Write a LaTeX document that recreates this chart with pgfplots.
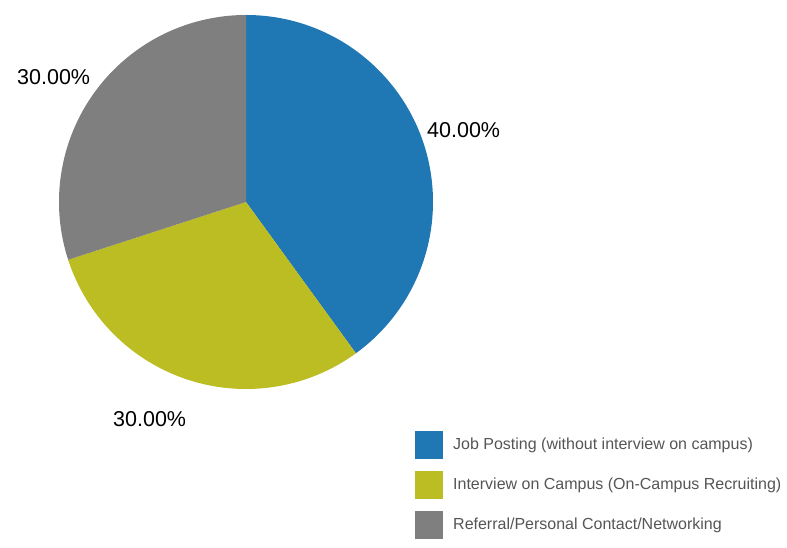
\documentclass[border=0pt]{standalone}
\usepackage{pgfplots}
\pgfplotsset{compat=1.18}
\usepackage{fontspec}
\setmainfont{Liberation Sans}

\definecolor{pblue}{HTML}{1F77B4}
\definecolor{pyellow}{HTML}{BCBD22}
\definecolor{pgray}{HTML}{7F7F7F}
\definecolor{legtext}{HTML}{555555}

% shares in percent
\def\va{40}\def\vb{30}\def\vc{30}

\begin{document}
\begin{tikzpicture}
\pgfmathsetmacro\aA{90}
\pgfmathsetmacro\aB{90-3.6*\va}
\pgfmathsetmacro\aC{\aB-3.6*\vb}
\pgfmathsetmacro\aD{\aC-3.6*\vc}
\begin{axis}[
	at={(0pt,0pt)},
	anchor=south west,
	scale only axis,
	width=787pt,
	height=548pt,
	xmin=0, xmax=787,
	ymin=0, ymax=548,
	hide axis,
	clip=false
	]
\addplot[draw=none] coordinates {(0,0) (787,548)};
% wedges, centre (246,346), radius 187
\fill[pblue] (axis cs:246,346) -- (axis cs:{246+187*cos(\aA)},{346+187*sin(\aA)})
	arc[start angle=\aA, end angle=\aB, radius=187pt] -- cycle;
\fill[pyellow] (axis cs:246,346) -- (axis cs:{246+187*cos(\aB)},{346+187*sin(\aB)})
	arc[start angle=\aB, end angle=\aC, radius=187pt] -- cycle;
\fill[pgray] (axis cs:246,346) -- (axis cs:{246+187*cos(\aC)},{346+187*sin(\aC)})
	arc[start angle=\aC, end angle=\aD, radius=187pt] -- cycle;

% slice labels
\node[anchor=west, inner sep=0pt, font=\fontsize{21.5}{24}\selectfont] at (axis cs:427,418) {40.00\%};
\node[anchor=west, inner sep=0pt, font=\fontsize{21.5}{24}\selectfont] at (axis cs:113,129) {30.00\%};
\node[anchor=west, inner sep=0pt, font=\fontsize{21.5}{24}\selectfont] at (axis cs:17,471) {30.00\%};

% legend
\fill[pblue] (axis cs:415,89) rectangle (axis cs:443,117);
\fill[pyellow] (axis cs:415,49) rectangle (axis cs:443,77);
\fill[pgray] (axis cs:415,9) rectangle (axis cs:443,37);
\node[anchor=west, inner sep=0pt, text=legtext, font=\fontsize{16}{18}\selectfont] at (axis cs:453,103) {Job Posting (without interview on campus)};
\node[anchor=west, inner sep=0pt, text=legtext, font=\fontsize{16}{18}\selectfont] at (axis cs:453,63) {Interview on Campus (On-Campus Recruiting)};
\node[anchor=west, inner sep=0pt, text=legtext, font=\fontsize{16}{18}\selectfont] at (axis cs:453,23) {Referral/Personal Contact/Networking};
\end{axis}
\end{tikzpicture}
\end{document}
